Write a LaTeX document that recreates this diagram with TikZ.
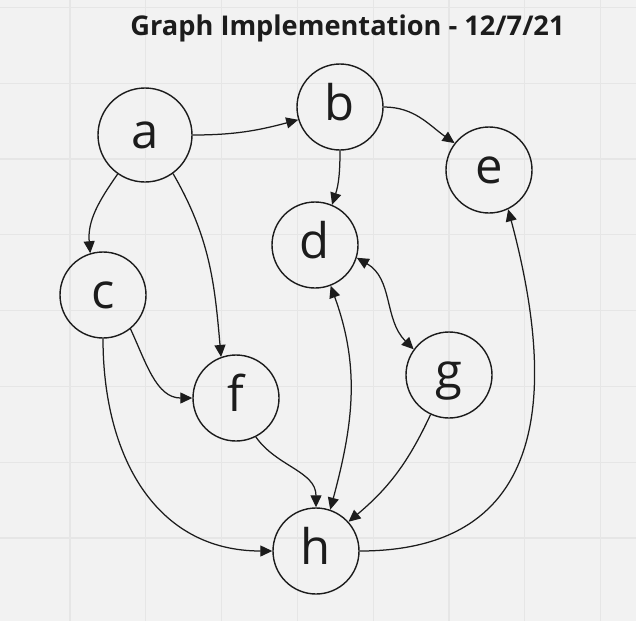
\documentclass[tikz,border=0pt]{standalone}
\usepackage{fontspec}
\setmainfont{Open Sans}
\usetikzlibrary{arrows.meta}
\definecolor{boardbg}{HTML}{F2F2F2}
\definecolor{boardgrid}{HTML}{E6E6E6}
\definecolor{ink}{HTML}{1C1C1C}
\tikzset{
  vtx/.style={circle, draw=ink, line width=1.4pt, minimum size=86pt, inner sep=0pt, text=ink, font=\fontsize{49}{49}\selectfont, text height=36pt, text depth=10pt},
  edge/.style={-{Triangle[length=12pt,width=11pt]}, line width=1.25pt, draw=ink},
  biedge/.style={{Triangle[length=12pt,width=11pt]}-{Triangle[length=12pt,width=11pt]}, line width=1.25pt, draw=ink}
}

\begin{document}
\begin{tikzpicture}[x=1pt,y=-1pt]
% board with grid
\fill[boardbg] (0,0) rectangle (636,621);
\useasboundingbox (0,0) rectangle (636,621);
\foreach \k in {0,...,7} {
  \draw[boardgrid, line width=1.2pt] ({70+75.8*\k},0) -- ({70+75.8*\k},621);
  \draw[boardgrid, line width=1.2pt] (0,{7.3+75.8*\k}) -- (636,{7.3+75.8*\k});
}
\node[font=\bfseries\fontsize{27.2}{27.2}\selectfont, text=ink, anchor=base] (title) at (347.5,35) {Graph Implementation - 12/7/21};

% vertices
\node[vtx, minimum size=94pt] (a) at (145,135) {a};
\node[vtx] (b) at (340,107) {b};
\node[vtx] (c) at (103,295) {c};
\node[vtx] (d) at (315,245) {d};
\node[vtx] (e) at (489,170) {e};
\node[vtx] (f) at (236,398) {f};
\node[vtx] (g) at (449,375) {g};
\node[vtx] (h) at (316,551) {h};

% edges
\draw[edge] (a.0) to[out=0, in=195] (b.197);
\draw[edge] (b.0) to[out=0, in=145] (e.142);
\draw[edge] (b.south) to[out=-90, in=72] (d.67);
\draw[edge] (a.235) to[out=235, in=95] (c.107);
\draw[edge] (a.-54) to[out=-60, in=95] (f.110);
\draw[edge] (c.-51) to[out=-65, in=180] (f.west);
\draw[edge] (c.south) to[out=-90, in=180, looseness=1.1] (h.west);
\draw[edge] (f.-63) to[out=-55, in=90] (h.north);
\draw[biedge] (h.71) to[out=75, in=-70] (d.-69);
\draw[biedge] (d.-17) to[out=-30, in=135] (g.144);
\draw[edge] (g.245) to[out=245, in=40] (h.42);
\draw[edge] (h.east) to[out=0, in=-75, looseness=1.3] (e.-64);
\end{tikzpicture}
\end{document}
